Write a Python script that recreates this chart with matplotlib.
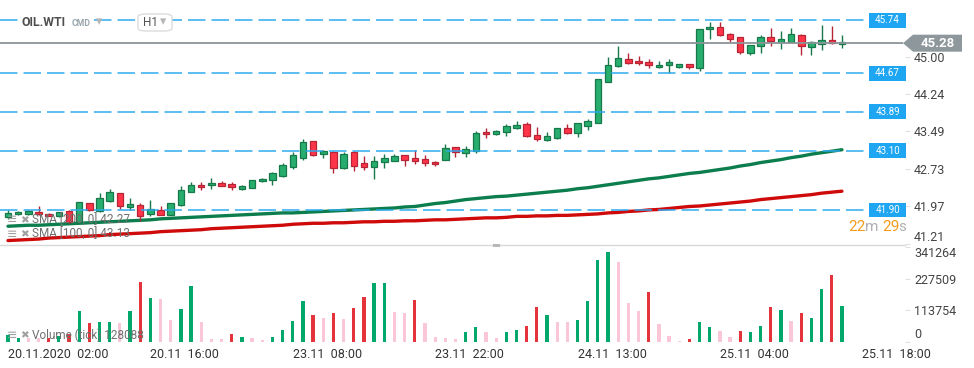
import matplotlib
matplotlib.use('Agg')
import matplotlib.pyplot as plt
import numpy as np
from matplotlib.patches import FancyBboxPatch, Polygon, Rectangle
from matplotlib.lines import Line2D

plt.rcParams['font.family'] = ['Roboto', 'DejaVu Sans']

# ---------------- data ----------------
opens = [41.75, 41.82, 41.82, 41.86, 41.82, 41.78, 41.88, 41.66, 42.04, 41.87,
         42.09, 42.24, 41.96, 42.00, 41.81, 41.90, 41.80, 42.00, 42.27, 42.41,
         42.40, 42.45, 42.42, 42.33, 42.35, 42.48, 42.50, 42.58, 42.78, 42.96,
         43.29, 43.04, 43.08, 42.76, 43.08, 42.85, 42.78, 42.88, 42.90, 43.01,
         42.95, 42.94, 42.87, 42.92, 43.17, 43.05, 43.10, 43.48, 43.43, 43.47,
         43.57, 43.64, 43.41, 43.31, 43.35, 43.56, 43.45, 43.61, 43.67, 44.50,
         44.82, 44.95, 44.92, 44.89, 44.79, 44.84, 44.79, 44.85, 44.78, 45.56,
         45.60, 45.47, 45.40, 45.07, 45.22, 45.40, 45.31, 45.31, 45.45, 45.20,
         45.26, 45.34, 45.27]
highs = [41.89, 41.88, 41.90, 41.98, 41.83, 41.86, 41.90, 42.07, 42.05, 42.24,
         42.33, 42.25, 42.14, 42.04, 42.11, 41.98, 42.05, 42.39, 42.47, 42.46,
         42.54, 42.48, 42.47, 42.40, 42.51, 42.54, 42.66, 42.85, 43.07, 43.34,
         43.30, 43.12, 43.09, 43.08, 43.09, 42.99, 43.00, 43.04, 43.04, 43.02,
         43.11, 43.02, 42.90, 43.24, 43.18, 43.19, 43.50, 43.56, 43.51, 43.64,
         43.71, 43.68, 43.59, 43.47, 43.57, 43.64, 43.67, 43.75, 44.56, 44.99,
         45.22, 45.09, 45.01, 44.95, 44.92, 44.96, 44.86, 44.86, 45.57, 45.71,
         45.70, 45.48, 45.41, 45.25, 45.45, 45.58, 45.52, 45.58, 45.46, 45.33,
         45.65, 45.63, 45.45]
lows = [41.72, 41.79, 41.80, 41.80, 41.77, 41.76, 41.63, 41.64, 41.88, 41.86,
        42.07, 41.92, 41.90, 41.68, 41.78, 41.79, 41.79, 41.99, 42.26, 42.31,
        42.32, 42.38, 42.31, 42.30, 42.34, 42.46, 42.41, 42.56, 42.73, 42.91,
        43.00, 42.96, 42.65, 42.72, 42.69, 42.70, 42.53, 42.74, 42.89, 42.80,
        42.83, 42.80, 42.79, 42.91, 42.98, 42.98, 43.06, 43.36, 43.42, 43.39,
        43.55, 43.38, 43.30, 43.29, 43.34, 43.44, 43.37, 43.52, 43.66, 44.49,
        44.79, 44.86, 44.83, 44.77, 44.77, 44.67, 44.78, 44.75, 44.72, 45.37,
        45.43, 45.31, 45.05, 45.03, 45.09, 45.23, 45.17, 45.30, 45.04, 45.04,
        45.14, 45.27, 45.18]
closes = [41.84, 41.86, 41.88, 41.82, 41.78, 41.85, 41.65, 42.06, 41.89, 42.14,
          42.26, 41.97, 42.02, 41.77, 41.92, 41.80, 42.04, 42.30, 42.41, 42.36,
          42.45, 42.39, 42.37, 42.38, 42.50, 42.53, 42.65, 42.81, 43.01, 43.28,
          43.02, 43.09, 42.74, 43.04, 42.80, 42.78, 42.89, 42.96, 43.00, 42.92,
          42.90, 42.85, 42.83, 43.15, 43.07, 43.13, 43.46, 43.43, 43.50, 43.60,
          43.62, 43.39, 43.33, 43.40, 43.56, 43.45, 43.66, 43.70, 44.55, 44.84,
          44.97, 44.87, 44.87, 44.83, 44.84, 44.89, 44.85, 44.79, 45.56, 45.60,
          45.45, 45.36, 45.10, 45.24, 45.40, 45.32, 45.36, 45.47, 45.22, 45.31,
          45.34, 45.28, 45.31]

volumes = [23500, 11500, 12600, 12600, 11500, 19800, 27100, 110000, 66700, 70400,
           70400, 66700, 110000, 215800, 157000, 153300, 77600, 117300, 200200, 70400,
           9000, 9000, 27100, 16200, 12600, 5400, 16200, 41500, 74000, 146100,
           95600, 84800, 102800, 81200, 120900, 160600, 211100, 211100, 106400, 102800,
           149700, 66700, 16200, 12600, 9000, 34300, 52300, 34300, 12600, 34300,
           41500, 55900, 124500, 95600, 70400, 70400, 77600, 146100, 294100, 324000,
           287900, 138900, 110000, 178600, 63100, 19800, 1800, 9000, 70400, 52300,
           37900, 16200, 37900, 34300, 55900, 124500, 113700, 74000, 102800, 84800,
           189400, 239900, 128088]
vol_kind = list("ggpprgrgrggpgrgppggppprgppggggrp"
                "rprrggpprppppggppggrrgppggggppprppprggpprggrgprggrg")

sma100 = [41.57, 41.58, 41.59, 41.59, 41.60, 41.61,
          41.62, 41.63, 41.64, 41.65, 41.66,
          41.67, 41.68, 41.69, 41.70, 41.72,
          41.73, 41.74, 41.75, 41.76, 41.77,
          41.78, 41.79, 41.80, 41.81, 41.82,
          41.83, 41.84, 41.84, 41.85, 41.86,
          41.87, 41.88, 41.89, 41.90, 41.91,
          41.92, 41.93, 41.94, 41.96, 41.97,
          42.00, 42.03, 42.05, 42.08, 42.11,
          42.13, 42.15, 42.17, 42.18, 42.20,
          42.22, 42.24, 42.26, 42.28, 42.30,
          42.33, 42.35, 42.38, 42.41, 42.44,
          42.47, 42.50, 42.53, 42.55, 42.58,
          42.61, 42.64, 42.66, 42.69, 42.72,
          42.75, 42.79, 42.82, 42.86, 42.89,
          42.92, 42.96, 42.99, 43.03, 43.06,
          43.09, 43.12]
sma200 = [41.28, 41.29, 41.30, 41.31, 41.33, 41.34,
          41.35, 41.36, 41.37, 41.38, 41.40,
          41.41, 41.42, 41.43, 41.44, 41.46,
          41.47, 41.48, 41.49, 41.50, 41.52,
          41.53, 41.54, 41.55, 41.56, 41.57,
          41.58, 41.59, 41.61, 41.62, 41.63,
          41.63, 41.64, 41.64, 41.65, 41.66,
          41.66, 41.67, 41.67, 41.68, 41.68,
          41.69, 41.70, 41.70, 41.71, 41.72,
          41.73, 41.74, 41.74, 41.75, 41.77,
          41.77, 41.78, 41.78, 41.79, 41.79,
          41.80, 41.81, 41.82, 41.84, 41.85,
          41.87, 41.88, 41.90, 41.91, 41.93,
          41.95, 41.97, 41.98, 42.00, 42.02,
          42.04, 42.06, 42.08, 42.11, 42.13,
          42.15, 42.17, 42.19, 42.21, 42.24,
          42.26, 42.28]

time_labels = ["20.11.2020  02:00", "20.11  16:00", "23.11  08:00", "23.11  22:00",
               "24.11  13:00", "25.11  04:00", "25.11  18:00"]
time_label_pos = [0, 14, 28, 42, 56, 70, 84]
price_ticks = [45.00, 44.24, 43.49, 42.73, 41.97, 41.21]
level_lines = [45.74, 44.67, 43.89, 43.10, 41.90]
current_price = 45.28
vol_ticks = [0, 113754, 227509, 341264]

# ---------------- layout ----------------
W, H = 974, 368
fig = plt.figure(figsize=(W / 100, H / 100), dpi=100)
fig.patch.set_facecolor('white')


def fx(px):
    return px / W


def fy(py):
    return 1 - py / H


PX0, STEP, AX_R = 8.0, 10.17, 905.0
XL = (-PX0 / STEP, (AX_R - PX0) / STEP)
PTOP, PBOT = 46.154, 41.215


def kx(px):
    return (px - PX0) / STEP


def py_of(price):
    return (PTOP - price) / (PTOP - PBOT) * 244.0


ax = fig.add_axes([0, fy(244), AX_R / W, 244 / H])
ax.set_xlim(XL)
ax.set_ylim(PBOT, PTOP)
axv = fig.add_axes([0, fy(341.5), AX_R / W, 94.5 / H])
axv.set_xlim(XL)
axv.set_ylim(0, 341264)

for a in (ax, axv):
    for s in a.spines.values():
        s.set_visible(False)
    a.set_facecolor('none')

# ---------------- candles ----------------
o = np.array(opens); h = np.array(highs); l = np.array(lows); c = np.array(closes)
idx = np.arange(len(o))
up = c >= o
G_FILL, G_EDGE = '#27ad6d', '#17794a'
R_FILL, R_EDGE = '#ff3449', '#b52535'
edge = np.where(up, G_EDGE, R_EDGE)
fill = np.where(up, G_FILL, R_FILL)

ax.plot(idx, sma100, color='#0c7d4c', lw=2.4, zorder=2, solid_capstyle='round')
ax.plot(idx, sma200, color='#cf0a0a', lw=2.4, zorder=2, solid_capstyle='round')

ax.vlines(idx, l, h, colors=edge, lw=1.0, zorder=3)
ax.bar(idx, np.maximum(np.abs(c - o), 0.03), bottom=np.minimum(o, c), width=0.64,
       color=fill, edgecolor=edge, linewidth=0.9, zorder=4)

# level lines with labels
x_line_end = kx(869)
for lv in level_lines:
    ax.hlines(lv, XL[0], x_line_end, colors='#2aa9ef', lw=1.2,
              linestyles=(0, (10.5, 3.6)), zorder=5, alpha=0.9)
    hh = 7.3 * (PTOP - PBOT) / 244
    ax.add_patch(Rectangle((kx(869), lv - hh), kx(906) - kx(869), 2 * hh,
                           facecolor='#1ea6f2', edgecolor='none', zorder=6, clip_on=False))
    ax.text(kx(887.5), lv, f"{lv:.2f}", ha='center', va='center', color='white',
            fontsize=7, zorder=7, clip_on=False)

# current price line + label
ax.hlines(current_price, XL[0], kx(903), colors='#8b9498', lw=1.3, zorder=5)
yc = py_of(current_price)
poly = Polygon([(fx(903), fy(yc)), (fx(913), fy(yc - 8.5)), (fx(962), fy(yc - 8.5)),
                (fx(962), fy(yc + 8.5)), (fx(913), fy(yc + 8.5))],
               closed=True, transform=fig.transFigure, facecolor='#8e979b',
               edgecolor='none', zorder=5)
fig.patches.append(poly)
fig.text(fx(938), fy(yc), f"{current_price:.2f}", ha='center', va='center',
         color='white', fontsize=9.5, fontweight='bold', zorder=6)

# price axis
ax.yaxis.tick_right()
ax.set_yticks(price_ticks)
ax.set_yticklabels([f"{v:.2f}" for v in price_ticks])
ax.tick_params(axis='y', length=3.5, color='#e0e0e0', pad=3, labelsize=9,
               labelcolor='#444444')
for t in ax.get_yticklabels():
    if t.get_text() == '41.21':
        t.set_va('bottom')
ax.set_xticks([])

# ---------------- volume ----------------
vcol = {'g': '#00a86b', 'r': '#e5333b', 'p': '#fbc6d5'}
axv.bar(idx, volumes, width=0.32, color=[vcol[k] for k in vol_kind], zorder=3)
axv.yaxis.tick_right()
axv.set_yticks(vol_ticks)
axv.set_yticklabels([str(v) for v in vol_ticks])
axv.tick_params(axis='y', length=3.5, color='#e0e0e0', pad=3, labelsize=9,
                labelcolor='#444444')
for t in axv.get_yticklabels():
    if t.get_text() == '341264':
        t.set_va('top')
    elif t.get_text() == '0':
        t.set_va('bottom')
axv.set_xticks(time_label_pos)
axv.set_xticklabels(time_labels, ha='left')
axv.tick_params(axis='x', length=0, pad=5, labelsize=9, labelcolor='#333333')

# separator between panels
fig.add_artist(Line2D([0, fx(905)], [fy(244.5), fy(244.5)], color='#d8d8d8', lw=1.0))
fig.patches.append(Rectangle((fx(493), fy(247)), 7 / W, 3 / H, transform=fig.transFigure,
                             facecolor='#b8b8b8', edgecolor='none', zorder=2))

# ---------------- legends / header ----------------
ic = '#a0a0a0'
for yy, txt in [(220, "SMA [200, 0] 42.27"), (234, "SMA [100, 0] 43.13"),
                (335, "Volume (tick) 128088")]:
    fig.text(fx(7), fy(yy), "≡", fontsize=9, color=ic, va='center', zorder=8)
    fig.text(fx(20), fy(yy), "✖", fontsize=7.5, color=ic, va='center', zorder=8)
    fig.text(fx(32), fy(yy), txt, fontsize=8.5, color='#707070', va='center', zorder=8)

# countdown
fig.text(fx(848), fy(227), "22", fontsize=11, color='#f49a1c', va='center', zorder=8)
fig.text(fx(865), fy(227), "m", fontsize=11, color='#b0b0b0', va='center', zorder=8)
fig.text(fx(882), fy(227), "29", fontsize=11, color='#f49a1c', va='center', zorder=8)
fig.text(fx(898), fy(227), "s", fontsize=11, color='#b0b0b0', va='center', zorder=8)

# header
fig.patches.append(Rectangle((fx(19), fy(31)), 74 / W, 18 / H, transform=fig.transFigure,
                             facecolor='white', edgecolor='none', zorder=6))
fig.text(fx(21), fy(22.5), "OIL.WTI", fontsize=8.8, fontweight='bold', color='#4f4f4f',
         va='center', zorder=8)
fig.text(fx(72), fy(23), "CMD", fontsize=6.3, fontweight='bold', color='#9aa6ae',
         va='center', zorder=8)
fig.text(fx(96), fy(21.5), "▾", fontsize=9, color='#b5b5b5', va='center', zorder=8)
fig.patches.append(FancyBboxPatch((fx(138), fy(31)), 34 / W, 17 / H,
                                  boxstyle='round,pad=0,rounding_size=0.008',
                                  transform=fig.transFigure, facecolor='white',
                                  edgecolor='#dcdcdc', lw=1.0, zorder=6))
fig.text(fx(143), fy(22.5), "H1", fontsize=8.5, color='#555555', va='center', zorder=8)
fig.text(fx(160), fy(21.5), "▾", fontsize=9, color='#b5b5b5', va='center', zorder=8)

fig.savefig('out.png', dpi=100, facecolor='white')
